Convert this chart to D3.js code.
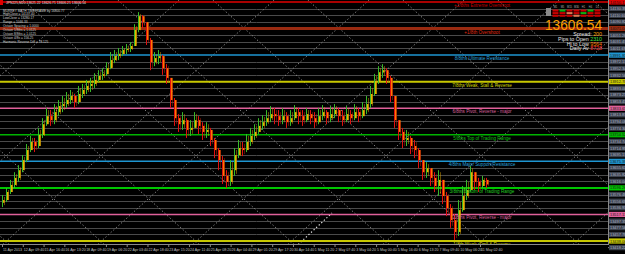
<!DOCTYPE html>
<html><head><meta charset="utf-8">
<script src="https://cdn.jsdelivr.net/npm/d3@7"></script>
<style>html,body{margin:0;padding:0;background:#000;overflow:hidden}svg{display:block}</style>
</head><body><svg id="c" width="625" height="254"></svg>
<script>
// ---------- data ----------
const firstOpen = 13552;
const closes = [13560,13584,13605,13626,13649,13679,13709,13733,13721,13754,
13786,13810,13798,13822,13840,13846,13858,13870,13852,13876,
13888,13900,13906,13918,13930,13935,13953,13977,13989,13995,
14007,14010,14019,14067,14108,14090,14037,13971,13983,13989,
13953,13924,13858,13804,13786,13798,13769,13775,13798,13781,
13763,13769,13739,13709,13679,13632,13614,13649,13694,13715,
13709,13733,13751,13763,13781,13792,13804,13816,13810,13798,
13810,13792,13804,13822,13810,13798,13816,13804,13792,13810,
13822,13804,13816,13828,13810,13798,13816,13804,13822,13810,
13828,13846,13876,13912,13941,13947,13924,13870,13798,13763,
13739,13745,13721,13709,13679,13643,13655,13626,13602,13620,
13572,13536,13500,13465,13530,13572,13590,13643,13614,13602,
13620,13606.54];
const highs = [13575,13596,13620,13643,13664,13694,13727,13751,13745,13775,
13804,13834,13828,13846,13858,13870,13882,13888,13876,13900,
13906,13918,13924,13938,13947,13953,13971,14001,14007,14013,
14019,14025,14031,14084,14120,14111,14090,14043,14001,14007,
13992,13965,13924,13864,13816,13822,13804,13798,13822,13810,
13792,13792,13775,13745,13715,13691,13649,13679,13715,13739,
13733,13757,13775,13786,13804,13813,13828,13840,13834,13828,
13834,13822,13828,13843,13834,13828,13834,13828,13822,13834,
13843,13828,13840,13846,13834,13828,13840,13828,13846,13834,
13852,13870,13900,13936,13959,13965,13953,13930,13870,13798,
13775,13769,13751,13739,13715,13679,13673,13655,13643,13649,
13620,13584,13548,13518,13560,13602,13620,13661,13643,13626,
13632,13626];
const lows = [13539,13554,13578,13596,13614,13643,13673,13703,13703,13715,
13745,13781,13781,13786,13810,13822,13834,13846,13834,13846,
13864,13876,13882,13894,13912,13918,13930,13950,13968,13977,
13989,13995,14001,14019,14060,14073,14022,13947,13959,13965,
13933,13906,13834,13781,13763,13769,13745,13751,13775,13757,
13739,13745,13721,13685,13649,13608,13596,13602,13632,13685,
13691,13703,13721,13739,13757,13769,13781,13792,13786,13781,
13786,13775,13781,13798,13786,13781,13792,13786,13775,13786,
13798,13786,13792,13804,13792,13781,13792,13786,13798,13792,
13804,13816,13834,13870,13906,13924,13906,13852,13775,13739,
13715,13721,13697,13685,13655,13620,13626,13602,13584,13572,
13548,13512,13477,13441,13453,13525,13560,13585,13590,13584,
13596,13596];

const levelPrices = [13438,13517.13,13596.25,13675.38,13754.5,13833.63,13912.75,13991.88,14071,14150.13];
const levelNames = ["1/8th Weak, Stall & Reverse","2/8ths Pivot, Reverse - major","3/8ths Bottom of Trading Range",
 "4/8ths Major Support/Resistance","5/8ths Top of Trading Range","6/8ths Pivot, Reverse - major",
 "7/8ths Weak, Stall & Reverse","8/8ths Ultimate Resistance","+1/8th Overshoot","+2/8ths Extreme Overshoot"];
const levelColors = ["#c8c800","#e0609a","#00c800","#1e96d2","#00b400","#e0609a","#c8c800","#1e96d2","#9a2a10","#e00000"];
const levelTextColors = ["#d2d200","#d8609c","#20d020","#2aa0dc","#10c010","#d8609c","#d2d200","#2aa0dc","#e02a10","#c80000"];
const levelWidths = [2,1.5,2,1.5,1.5,1.5,2,1.5,3,1.5];

const timeLabels = ["11 Apr 2013","12 Apr 09:40","15 Apr 16:40","16 Apr 13:20","18 Apr 09:40","19 Apr 06:20",
 "22 Apr 03:40","22 Apr 18:40","23 Apr 15:20","24 Apr 11:40","25 Apr 08:20","26 Apr 04:40","29 Apr 01:20",
 "29 Apr 17:20","30 Apr 14:40","1 May 11:20","2 May 07:40","3 May 04:20","5 May 00:40","5 May 16:40",
 "6 May 13:20","7 May 09:40","10 May 06:20","11 May 02:40"];

const infoLines = ["MURREY MATH TIMEFRAME by 16800.77","HighClose = 14137.40","LowClose = 13280.17","Range = 1046.33",
 "Octave Spacing = 1.0000","Octave 1/8ths = 1.0125","Octave 8/8ths = 1.0125","Octave 4/8s = 156.25","Harmonic Reverse Diff = 78.125"];
const titleText = "JPN225,M20  13621.22 13626.71 13606.21 13606.54";
const currentPrice = "13606.54";
const statLabels = ["Spread: ","Pips to Open ","Hi to Low ","Daily Av "];
const statValues = ["200","2310","9564","8728"];
const statColors = ["#ffa000","#40e040","#ff7a00","#ff3030"];
const sigCols = ["M1","M5","M15","M30","H1","H4","D1"];
const sigRows = [["r","g","r","r","r","g","r"],["r","r","o","r","g","r","r"],["r","r","r","o","r","r","r"]];

// ---------- drawing ----------
const svg = d3.select("#c");
const W = 625, H = 254, plotR = 608, plotB = 244;
const font = "'Liberation Sans', Arial, sans-serif";
svg.append("rect").attr("width",W).attr("height",H).attr("fill","#000");

const y = d3.scaleLinear().domain([levelPrices[0], levelPrices[9]]).range([241, 2]);
const x = d3.scaleLinear().domain([0, closes.length-1]).range([2, 486]);

const clip = svg.append("defs").append("clipPath").attr("id","pc");
clip.append("rect").attr("x",0).attr("y",0).attr("width",plotR).attr("height",plotB);
const plot = svg.append("g").attr("clip-path","url(#pc)");

// quarter grid lines
const step = (levelPrices[1]-levelPrices[0]);
const quarters = d3.range(-4, 44).map(k => levelPrices[0] + k*step/4);
plot.selectAll("line.q").data(quarters.filter((p,i)=> (i%4)!==0)).join("line")
  .attr("x1",0).attr("x2",plotR).attr("y1",d=>Math.round(y(d))+0.5).attr("y2",d=>Math.round(y(d))+0.5)
  .attr("stroke","#4a4a4a").attr("stroke-width",1);

// diagonal dotted lattice
const slope = 0.9, P = 95;
const diag = plot.append("g");
for (let k=-4;k<10;k++){
  const a = 117.8 + P*k; // descending: y = slope*(x-a)
  diag.append("line").attr("x1",a).attr("y1",0).attr("x2",a+plotB/slope).attr("y2",plotB);
  const b = 179.2 + P*k; // ascending: y = -slope*(x-b)
  diag.append("line").attr("x1",b).attr("y1",0).attr("x2",b-plotB/slope).attr("y2",plotB);
}
diag.selectAll("line").attr("stroke","#8c8c8c").attr("stroke-width",1).attr("stroke-dasharray","1.3,2.2").attr("fill","none");
// white dotted trend line
plot.append("line").attr("x1",288).attr("y1",254).attr("x2",332).attr("y2",213)
  .attr("stroke","#f0f0f0").attr("stroke-width",1.1).attr("stroke-dasharray","1.3,2.2");

// murrey levels
plot.selectAll("line.lv").data(levelPrices).join("line")
  .attr("x1",0).attr("x2",plotR).attr("y1",d=>y(d)).attr("y2",d=>y(d))
  .attr("stroke",(d,i)=>levelColors[i]).attr("stroke-width",(d,i)=>levelWidths[i]);

// bars
const opens = closes.map((c,i)=> i===0 ? firstOpen : closes[i-1]);
const bars = plot.append("g");
closes.forEach((c,i)=>{
  const o = opens[i], up = c >= o;
  const xi = Math.round(x(i));
  bars.append("line").attr("x1",xi+0.5).attr("x2",xi+0.5).attr("y1",y(highs[i])).attr("y2",y(lows[i]))
    .attr("stroke", up ? "#38b828" : "#e01010").attr("stroke-width",1);
  const yt = Math.min(y(o),y(c)), hb = Math.max(1, Math.abs(y(o)-y(c)));
  bars.append("rect").attr("x",xi+1).attr("y",yt).attr("width",1.6).attr("height",hb)
    .attr("fill", up ? "#e8b400" : "#ff7800");
  bars.append("line").attr("x1",xi+2.5).attr("x2",xi+2.5).attr("y1",y(highs[i])+2).attr("y2",y(lows[i])-2)
    .attr("stroke", up ? "#d8a000" : "#c82008").attr("stroke-width",0.8).attr("opacity",0.6);
});

// level labels
plot.selectAll("text.lv").data(levelPrices).join("text")
  .attr("x",482).attr("y",d=>y(d)+5).attr("text-anchor","middle")
  .attr("font-family",font).attr("font-size",4.6).attr("fill",(d,i)=>levelTextColors[i])
  .text((d,i)=>levelNames[i]);

// axes lines
svg.append("line").attr("x1",plotR+0.5).attr("x2",plotR+0.5).attr("y1",0).attr("y2",plotB).attr("stroke","#8a8a8a");
svg.append("line").attr("x1",0).attr("x2",plotR+1).attr("y1",plotB+0.5).attr("y2",plotB+0.5).attr("stroke","#8a8a8a");

// right axis boxes
const ax = svg.append("g");
quarters.forEach((p,k)=>{
  const yy = y(p);
  if (yy < -4 || yy > 252) return;
  const li = levelPrices.findIndex(v=>Math.abs(v-p)<0.5);
  ax.append("line").attr("x1",plotR).attr("x2",plotR+2).attr("y1",yy).attr("y2",yy).attr("stroke","#8a8a8a");
  ax.append("rect").attr("x",609).attr("y",yy-2.6).attr("width",16).attr("height",5.2)
    .attr("fill", li>=0 ? levelColors[li] : "#3c424e");
  ax.append("text").attr("x",610).attr("y",yy+1.5).attr("font-family",font).attr("font-size",3.9)
    .attr("fill", li>=0 ? "#1a1a1a" : "#a8b0c0").text(p.toFixed(2));
});

// bottom time axis
const tx = d3.scalePoint().domain(timeLabels).range([2, 480]);
const bx = svg.append("g");
timeLabels.forEach(t=>{
  const xx = tx(t);
  bx.append("line").attr("x1",xx+0.5).attr("x2",xx+0.5).attr("y1",plotB).attr("y2",plotB+3).attr("stroke","#8a8a8a");
  bx.append("text").attr("x",xx+1).attr("y",251).attr("font-family",font).attr("font-size",3.6).attr("fill","#c0c0c0").text(t);
});

// top-left info
svg.append("rect").attr("x",0).attr("y",0).attr("width",3).attr("height",5).attr("fill","#e00000");
svg.append("text").attr("x",6).attr("y",4.2).attr("font-family",font).attr("font-size",3.4).attr("fill","#e0e0e0").text(titleText);
svg.selectAll("text.info").data(infoLines).join("text")
  .attr("x",3).attr("y",(d,i)=>11.5+i*3.95).attr("font-family",font).attr("font-size",3.2).attr("fill","#d0d0d0").text(d=>d);

// top-right panel
const sig = svg.append("g");
sig.append("rect").attr("x",546).attr("y",8).attr("width",5).attr("height",8).attr("fill","#8a8a8a");
sigCols.forEach((c,j)=>{
  sig.append("text").attr("x",555.5+j*7).attr("y",8.3).attr("text-anchor","middle").attr("font-family",font)
    .attr("font-size",2.6).attr("fill","#b0b0b0").text(c);
  sigRows.forEach((row,r)=>{
    const col = row[j]==="g" ? "#10b010" : row[j]==="o" ? "#e07850" : "#c80000";
    sig.append("rect").attr("x",552.5+j*7).attr("y",9.5+r*2.6).attr("width",6).attr("height",2.1).attr("fill",col);
  });
});
svg.append("text").attr("x",602).attr("y",29.5).attr("text-anchor","end").attr("font-family",font)
  .attr("font-size",15).attr("fill","#ffa000").attr("textLength",57).attr("lengthAdjust","spacingAndGlyphs").text(currentPrice);
statLabels.forEach((s,i)=>{
  const t = svg.append("text").attr("x",602).attr("y",36+i*4.8).attr("text-anchor","end")
    .attr("font-family",font).attr("font-size",5.3);
  t.append("tspan").attr("fill","#e8e8e8").text(s);
  t.append("tspan").attr("fill",statColors[i]).text(statValues[i]);
});
</script></body></html>
